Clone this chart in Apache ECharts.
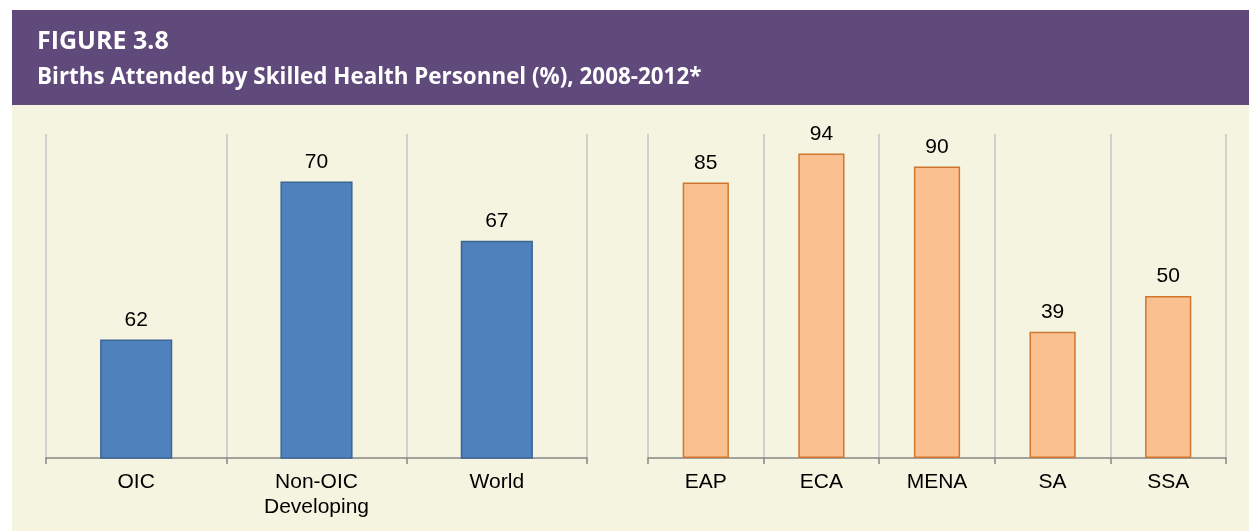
<!DOCTYPE html>
<html>
<head>
<meta charset="utf-8">
<script src="https://cdn.jsdelivr.net/npm/echarts@6/dist/echarts.min.js"></script>
<style>
  html, body { margin:0; padding:0; background:#ffffff; }
  #chart { width:1249px; height:531px; }
</style>
</head>
<body>
<div id="chart"></div>
<script>
// data
var groupNames = ['OIC', 'Non-OIC\nDeveloping', 'World'];
var groupValues = [62, 70, 67];
var regionNames = ['EAP', 'ECA', 'MENA', 'SA', 'SSA'];
var regionValues = [85, 94, 90, 39, 50];

var labelFont = 'Liberation Sans, Arial, sans-serif';
var headFont = 'Open Sans, Noto Sans, sans-serif';

function catAxis(idx, names){
	return {
		type:'category',
		gridIndex:idx,
		data:names,
		axisLine:{ lineStyle:{ color:'#868686', width:1.5 } },
		axisTick:{ show:true, length:6, lineStyle:{ color:'#868686', width:1.5 } },
		splitLine:{ show:true, lineStyle:{ color:'#c4c4c4', width:1.5 } },
		axisLabel:{
			color:'#000000',
			fontFamily:labelFont,
			fontSize:21,
			lineHeight:25,
			margin:12
		}
	};
}

function barLabel(){
	return {
		show:true,
		position:'top',
		distance:9,
		color:'#000000',
		fontFamily:labelFont,
		fontSize:21
	};
}

var option = {
	animation:false,
	backgroundColor:'#ffffff',
	graphic:[
		{ type:'rect', shape:{ x:12, y:10, width:1237, height:95 }, style:{ fill:'#604a7b' }, z:-10 },
		{ type:'rect', shape:{ x:12, y:105, width:1237, height:426 }, style:{ fill:'#f5f4e0' }, z:-10 }
	],
	title:[
		{
			text:'FIGURE 3.8',
			left:37, top:29, padding:0,
			textStyle:{ color:'#ffffff', fontFamily:headFont, fontWeight:'bold', fontSize:25 }
		},
		{
			text:'Births Attended by Skilled Health Personnel (%), 2008-2012*',
			left:37, top:67, padding:0,
			textStyle:{ color:'#ffffff', fontFamily:headFont, fontWeight:'bold', fontSize:22.4 }
		}
	],
	grid:[
		{ left:46, top:134, width:541, height:324 },
		{ left:648, top:134, width:578, height:324 }
	],
	xAxis:[ catAxis(0, groupNames), catAxis(1, regionNames) ],
	yAxis:[
		{ type:'value', gridIndex:0, min:56, max:72.4, show:false },
		{ type:'value', gridIndex:1, min:0, max:100, show:false }
	],
	series:[
		{
			type:'bar',
			xAxisIndex:0, yAxisIndex:0,
			data:groupValues,
			barWidth:'40%',
			itemStyle:{ color:'#4f81bd', borderColor:'#3c6494', borderWidth:1.5 },
			label:barLabel()
		},
		{
			type:'bar',
			xAxisIndex:1, yAxisIndex:1,
			data:regionValues,
			barWidth:'40%',
			itemStyle:{ color:'#fac090', borderColor:'#d0762f', borderWidth:1.5 },
			label:barLabel()
		}
	]
};

echarts.init(document.getElementById('chart')).setOption(option);
</script>
</body>
</html>
